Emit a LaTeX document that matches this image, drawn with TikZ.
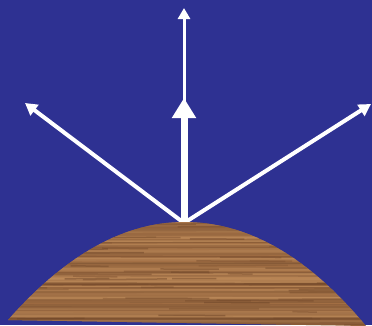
\documentclass[tikz,border=0pt]{standalone}
\usetikzlibrary{arrows.meta}
\definecolor{bg}{RGB}{46,49,146}
\definecolor{woodbase}{RGB}{165,112,68}
\definecolor{woodlight}{RGB}{198,148,98}
\definecolor{wooddark}{RGB}{108,68,40}
\tikzset{
  thinray/.style={draw=white, line width=3pt, -{Triangle[length=11pt,width=12pt]}},
  thickray/.style={draw=white, line width=7pt, -{Triangle[length=20pt,width=23pt]}},
  sideray/.style={draw=white, line width=4pt, -{Triangle[length=12pt,width=13pt]}},
}
\begin{document}
\begin{tikzpicture}[x=1pt,y=-1pt]
\fill[bg] (0,0) rectangle (372,325);
\useasboundingbox (0,0) rectangle (372,325);
\coordinate (apex) at (184,223);
\coordinate (topTip) at (184,8);
\coordinate (thickTip) at (184,98);
\coordinate (leftTip) at (25,103);
\coordinate (rightTip) at (371,104);
% rays
\draw[thinray] (apex) -- (topTip);
\draw[thickray] (apex) -- (thickTip);
\draw[sideray] (apex) -- (leftTip);
\draw[sideray] (apex) -- (rightTip);
% wooden hump
\begin{scope}
\clip (8,320) .. controls (68,252) and (127,222) .. (184,222)
  .. controls (246,222) and (306,254) .. (366,326) -- cycle;
\fill[woodbase] (0,215) rectangle (372,330);
\pgfmathsetseed{11}
\foreach \i in {0,...,70}{
  \pgfmathsetmacro\yy{219+\i*1.5}
  \pgfmathtruncatemacro\pct{rnd*100}
  \pgfmathsetmacro\dy{rnd*2-1}
  \pgfmathsetmacro\lw{1+rnd*1.8}
  \draw[line width=\lw pt, wooddark!\pct!woodlight, opacity=0.55]
    (0,\yy) -- (372,\yy+\dy);
}
\foreach \i in {1,...,70}{
  \pgfmathsetmacro\yy{222+rnd*104}
  \pgfmathsetmacro\xx{rnd*372}
  \pgfmathsetmacro\ll{20+rnd*90}
  \pgfmathtruncatemacro\pct{50+rnd*50}
  \draw[line width=1.5pt, wooddark!\pct!woodbase, opacity=0.5]
    (\xx,\yy) -- (\xx+\ll,\yy+rnd*1.5-0.75);
}
\end{scope}
\end{tikzpicture}
\end{document}
